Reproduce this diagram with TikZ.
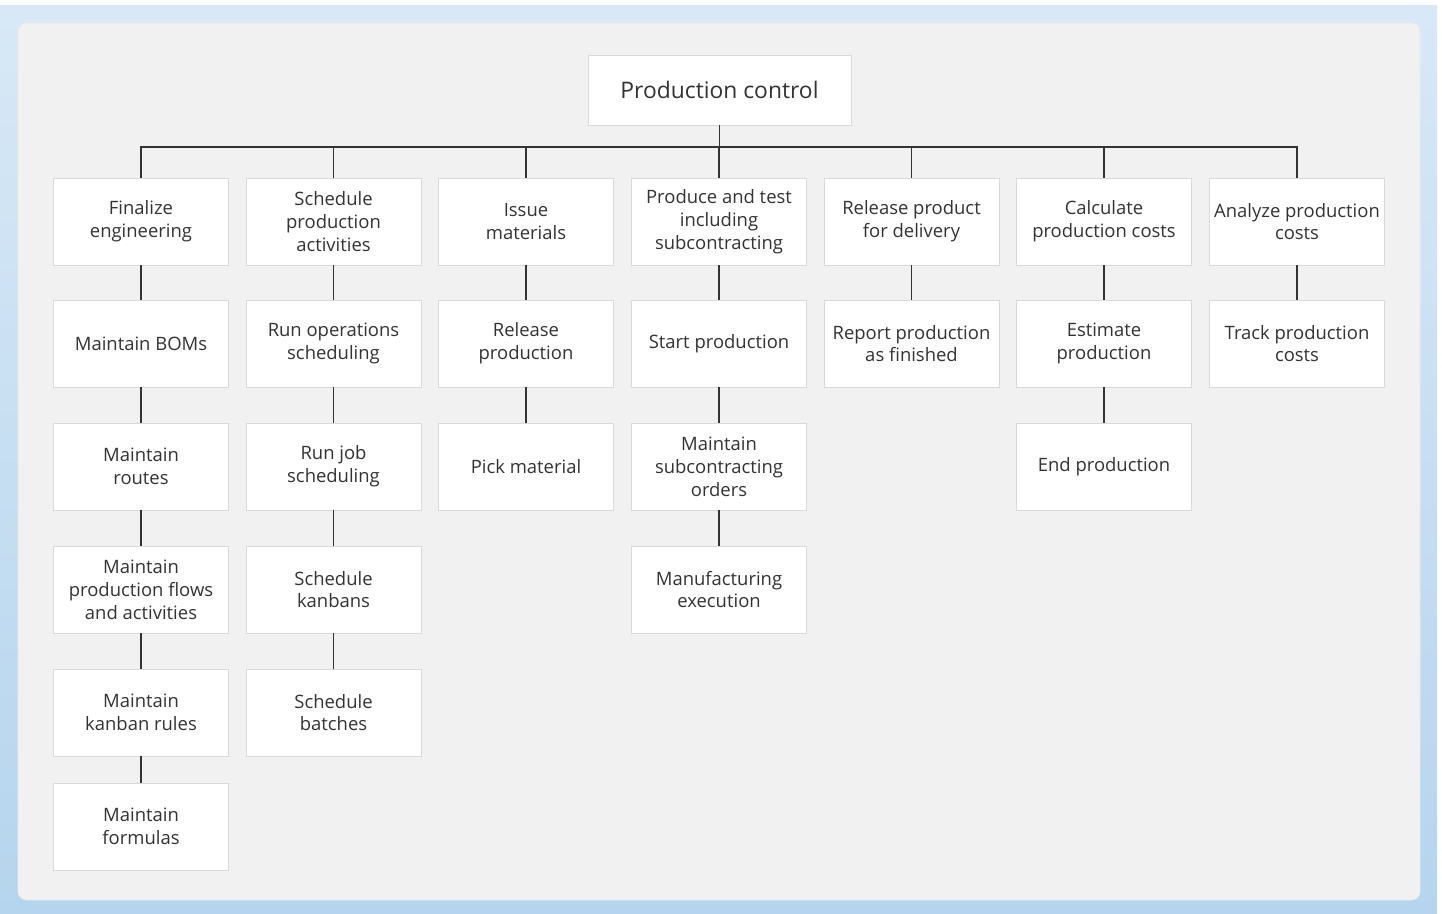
\documentclass[tikz,border=0pt]{standalone}
\usepackage{fontspec}
\setmainfont{Open Sans}
\definecolor{frameblue}{HTML}{B5D5EE}
\definecolor{frametop}{HTML}{D8E8F6}
\definecolor{panel}{HTML}{F1F1F1}
\definecolor{boxline}{HTML}{D9D9D9}
\definecolor{ink}{HTML}{333333}
\begin{document}
\begin{tikzpicture}[x=0.02cm,y=-0.02cm,
  task/.style={draw=boxline,fill=white,minimum width=3.5cm,minimum height=1.74cm,
    align=center,text=ink,font=\fontsize{10.5}{13}\selectfont,inner sep=0pt},
  top/.style={task,minimum width=5.26cm,minimum height=1.4cm,font=\fontsize{13}{15}\selectfont},
  link/.style={draw=ink,line width=0.9pt}]
\useasboundingbox (0,0) rectangle (1442,913);
% frame and panel
\shade[top color=frametop,bottom color=frameblue] (0,5) rectangle (1437,913);
\draw[fill=panel,draw=white!92!black,rounded corners=5] (18,23) rectangle (1420,900);
% root
\node[top] (root) at (719.5,90) {Production control};
\coordinate (bus) at (719.5,147);
% column 1
\node[task] (fin)  at (141,221.5) {Finalize\\engineering};
\node[task] (bom)  at (141,343.5) {Maintain BOMs};
\node[task] (rout) at (141,466.5) {Maintain\\routes};
\node[task] (flow) at (141,589.5) {Maintain\\production flows\\and activities};
\node[task] (kanr) at (141,712.5) {Maintain\\kanban rules};
\node[task] (form) at (141,826.5) {Maintain\\formulas};
% column 2
\node[task] (sched)  at (333.5,221.5) {Schedule\\production\\activities};
\node[task] (runop)  at (333.5,343.5) {Run operations\\scheduling};
\node[task] (runjob) at (333.5,466.5) {Run job\\scheduling};
\node[task] (schk)   at (333.5,589.5) {Schedule\\kanbans};
\node[task] (schb)   at (333.5,712.5) {Schedule\\batches};
% column 3
\node[task] (issue) at (526,221.5) {Issue\\materials};
\node[task] (rel)   at (526,343.5) {Release\\production};
\node[task] (pick)  at (526,466.5) {Pick material};
% column 4
\node[task] (prod)  at (719,221.5) {Produce and test\\including\\subcontracting};
\node[task] (start) at (719,343.5) {Start production};
\node[task] (subc)  at (719,466.5) {Maintain\\subcontracting\\orders};
\node[task] (mfg)   at (719,589.5) {Manufacturing\\execution};
% column 5
\node[task] (relp) at (911.5,221.5) {Release product\\for delivery};
\node[task] (rep)  at (911.5,343.5) {Report production\\as finished};
% column 6
\node[task] (calc) at (1104,221.5) {Calculate\\production costs};
\node[task] (est)  at (1104,343.5) {Estimate\\production};
\node[task] (endp) at (1104,466.5) {End production};
% column 7
\node[task] (anal)  at (1297,221.5) {Analyze production\\costs};
\node[task] (track) at (1297,343.5) {Track production\\costs};
% connectors
\draw[link] (root) -- (bus);
\foreach \t in {fin,sched,issue,prod,relp,calc,anal}
  \draw[link] (bus) -| (\t);
\foreach \a/\b in {fin/bom,bom/rout,rout/flow,flow/kanr,kanr/form,
  sched/runop,runop/runjob,runjob/schk,schk/schb,
  issue/rel,rel/pick,prod/start,start/subc,subc/mfg,
  relp/rep,calc/est,est/endp,anal/track}
  \draw[link] (\a) -- (\b);
\end{tikzpicture}
\end{document}
